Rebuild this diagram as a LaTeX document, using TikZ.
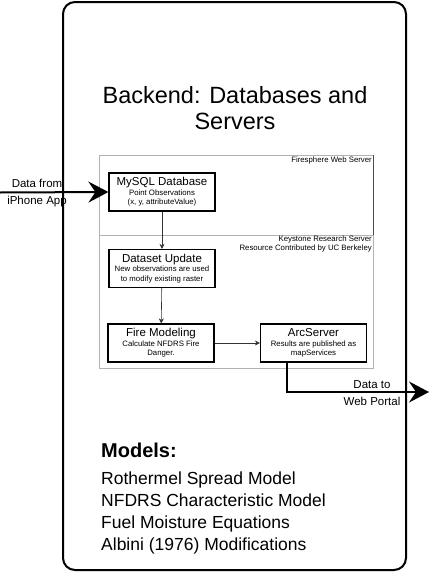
\documentclass[tikz,border=0pt]{standalone}
\usepackage{fontspec}
\setmainfont{Liberation Sans}
\usetikzlibrary{arrows.meta}
\newcommand{\boxtitle}[1]{{\fontsize{11.5}{13}\selectfont #1}}

\begin{document}
\begin{tikzpicture}[x=1pt,y=-1pt,
    proc node/.style={draw,line width=1.2pt,minimum width=106pt,minimum height=38pt,inner sep=1pt,align=center,font=\fontsize{7.8}{9.5}\selectfont},
    server box/.style={draw=gray!60,line width=1pt},
    server label/.style={font=\fontsize{7.8}{8.3}\selectfont,inner sep=0pt,align=right},
    flow/.style={-{Stealth[length=5pt,width=5pt]},line width=0.6pt,draw=black!80},
    data flow/.style={-{Stealth[length=20pt,width=21pt,inset=7pt]},line width=2pt},
    data label/.style={font=\fontsize{11.5}{17.5}\selectfont,align=center,inner sep=0pt}
  ]
  \useasboundingbox[fill=white] (0,0) rectangle (429,573);

  % backend frame
  \draw[line width=2pt,rounded corners=12pt] (63,2) rectangle (406,570);
  \node (title1) [anchor=base,font=\fontsize{23.5}{27}\selectfont] at (235,103) {Backend: Databases and};
  \node (title2) [anchor=base,font=\fontsize{23.5}{27}\selectfont] at (235,129) {Servers};

  % servers
  \draw[server box] (99,155) rectangle (373,235);
  \draw[black!70,line width=1pt] (373,155) -- (373,235);
  \draw[server box] (99,235) rectangle (373,368);
  \node (fireweb) [server label,anchor=base east] at (372,162) {Firesphere Web Server};
  \node (keystone) [server label,anchor=north east] at (372,236) {Keystone Research Server\\Resource Contributed by UC Berkeley};

  % processing steps
  \node[proc node] (mysql) at (162,192) {\boxtitle{MySQL Database}\\Point Observations\\(x, y, attributeValue)};
  \node[proc node] (update) at (162,268.5) {\boxtitle{Dataset Update}\\New observations are used\\to modify existing raster};
  \node[proc node] (fire) at (161,343) {\boxtitle{Fire Modeling}\\Calculate NFDRS Fire\\Danger.};
  \node[proc node] (arc) at (313.5,343) {\boxtitle{ArcServer}\\Results are published as\\mapServices};

  \draw[flow] (mysql) -- (update);
  \draw[flow] (update) -- (fire);
  \draw[flow] (fire) -- (arc);

  % data in and out
  \coordinate (app) at (0,192.5);
  \coordinate (portal) at (429,392);
  \draw[data flow] (app) -- (mysql.west);
  \draw[data flow] ([xshift=-26.5pt]arc.south) |- (portal);
  \node (datafrom) [data label] at (37,193) {Data from\\iPhone App};
  \node (datato) [data label] at (372,393) {Data to\\Web Portal};

  % models
  \node (models) [anchor=base west,inner sep=0pt,font=\fontsize{20}{24}\selectfont\bfseries] at (101,457) {Models:};
  \node (modellist) [anchor=north west,inner sep=0pt,align=left,font=\fontsize{17.5}{22}\selectfont] at (101,472) {Rothermel Spread Model\\NFDRS Characteristic Model\\Fuel Moisture Equations\\Albini (1976) Modifications};
\end{tikzpicture}
\end{document}
